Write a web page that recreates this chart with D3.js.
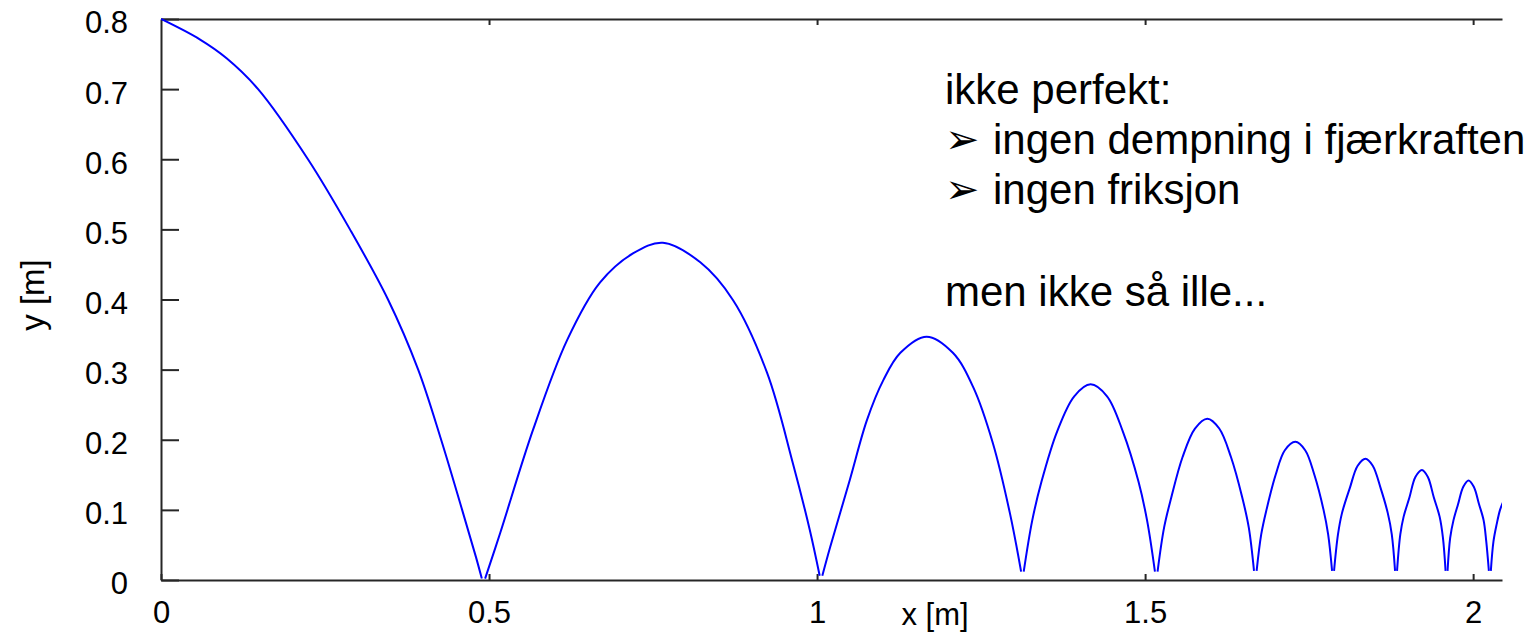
<!DOCTYPE html>
<html>
<head>
<meta charset="utf-8">
<script src="https://cdn.jsdelivr.net/npm/d3@7"></script>
<style>
  html, body { margin: 0; padding: 0; background: #ffffff; }
  svg { display: block; }
  text { font-family: "Liberation Sans", Arial, Helvetica, sans-serif; fill: #000; }
</style>
</head>
<body>
<svg id="chart" width="1538" height="635"></svg>
<script>
// Axis ticks
const xTicks = [0, 0.5, 1, 1.5, 2];
const xTickLabels = ["0", "0.5", "1", "1.5", "2"];
const yTicks = [0, 0.1, 0.2, 0.3, 0.4, 0.5, 0.6, 0.7, 0.8];
const yTickLabels = ["0", "0.1", "0.2", "0.3", "0.4", "0.5", "0.6", "0.7", "0.8"];
const xLabel = "x [m]";
const yLabel = "y [m]";

// Ball trajectory, one array per flight between two ground contacts: [x, y] in metres
const arc0 = [[0, 0.800], [0.059, 0.771], [0.100, 0.744], [0.148, 0.700], [0.224, 0.600], [0.288, 0.500],
              [0.346, 0.400], [0.392, 0.300], [0.427, 0.200], [0.459, 0.100], [0.480, 0.033], [0.489, 0.002]];
const arc1 = [[0.494, 0.002], [0.517, 0.067], [0.567, 0.214], [0.619, 0.342], [0.669, 0.424], [0.720, 0.466],
              [0.765, 0.481], [0.822, 0.453], [0.872, 0.399], [0.924, 0.295], [0.963, 0.167], [0.989, 0.071], [1.004, 0.006]];
const arc2 = [[1.008, 0.006], [1.020, 0.047], [1.050, 0.143], [1.076, 0.228], [1.101, 0.285], [1.127, 0.324],
              [1.167, 0.347], [1.207, 0.324], [1.238, 0.275], [1.268, 0.195], [1.294, 0.095], [1.311, 0.012]];
const arc3 = [[1.315, 0.012], [1.328, 0.085], [1.342, 0.140], [1.366, 0.212], [1.392, 0.262], [1.417, 0.279],
              [1.442, 0.262], [1.466, 0.212], [1.490, 0.140], [1.503, 0.085], [1.515, 0.012]];
const arc4 = [[1.519, 0.012], [1.529, 0.075], [1.540, 0.118], [1.557, 0.175], [1.576, 0.216], [1.595, 0.230],
              [1.613, 0.216], [1.631, 0.175], [1.648, 0.118], [1.658, 0.075], [1.666, 0.013]];
const arc5 = [[1.670, 0.013], [1.677, 0.065], [1.685, 0.100], [1.699, 0.150], [1.713, 0.185], [1.729, 0.197],
              [1.744, 0.185], [1.758, 0.150], [1.772, 0.100], [1.779, 0.065], [1.785, 0.013]];
const arc6 = [[1.788, 0.013], [1.794, 0.065], [1.800, 0.095], [1.812, 0.131], [1.824, 0.163], [1.836, 0.173],
              [1.847, 0.163], [1.859, 0.131], [1.870, 0.095], [1.876, 0.065], [1.881, 0.013]];
const arc7 = [[1.884, 0.013], [1.889, 0.065], [1.894, 0.090], [1.903, 0.118], [1.912, 0.147], [1.922, 0.157],
              [1.931, 0.147], [1.940, 0.118], [1.949, 0.090], [1.954, 0.060], [1.958, 0.013]];
const arc8 = [[1.961, 0.013], [1.965, 0.060], [1.970, 0.085], [1.977, 0.108], [1.985, 0.133], [1.993, 0.142],
              [2.001, 0.133], [2.009, 0.108], [2.016, 0.085], [2.020, 0.055], [2.024, 0.013]];
const arc9 = [[2.027, 0.013], [2.031, 0.055], [2.036, 0.080], [2.041, 0.100], [2.046, 0.112]];
const arcs = [arc0, arc1, arc2, arc3, arc4, arc5, arc6, arc7, arc8, arc9];

// Note text
const noteHead = "ikke perfekt:";
const noteBullets = ["ingen dempning i fjærkraften", "ingen friksjon"];
const noteTail = "men ikke så ille...";

const svg = d3.select("#chart");
const margin = { left: 161, right: 1502, top: 19, bottom: 580 };

const x = d3.scaleLinear().domain([0, 2.044]).range([margin.left, margin.right]);
const y = d3.scaleLinear().domain([0, 0.8]).range([margin.bottom, margin.top]);

svg.append("rect").attr("width", 1538).attr("height", 635).attr("fill", "#fff");

svg.append("defs").append("clipPath").attr("id", "plotArea")
  .append("rect")
  .attr("x", margin.left).attr("y", margin.top - 2)
  .attr("width", margin.right - margin.left).attr("height", margin.bottom - margin.top + 4);

const axisColor = "#262626";
const tickFont = 31;

function styleAxis(g) {
  g.select(".domain").attr("stroke", axisColor).attr("stroke-width", 2);
  g.selectAll(".tick line").attr("stroke", axisColor).attr("stroke-width", 2);
  g.selectAll(".tick text")
    .attr("font-family", "'Liberation Sans', Arial, Helvetica, sans-serif")
    .attr("font-size", tickFont).attr("fill", "#111");
}

// Bottom axis
svg.append("g")
  .attr("transform", `translate(0,${margin.bottom})`)
  .call(d3.axisBottom(x).tickValues(xTicks)
    .tickFormat((d, i) => xTickLabels[i])
    .tickSizeInner(-6).tickSizeOuter(0).tickPadding(21))
  .call(styleAxis)
  .call(g => g.selectAll(".tick text").attr("dy", "0.71em"));

// Top axis (ticks only)
svg.append("g")
  .attr("transform", `translate(0,${margin.top})`)
  .call(d3.axisTop(x).tickValues(xTicks.slice(1)).tickFormat("")
    .tickSizeInner(-6).tickSizeOuter(0))
  .call(styleAxis);

// Left axis
svg.append("g")
  .attr("transform", `translate(${margin.left},0)`)
  .call(d3.axisLeft(y).tickValues(yTicks)
    .tickFormat((d, i) => yTickLabels[i])
    .tickSizeInner(-18).tickSizeOuter(0).tickPadding(33))
  .call(styleAxis)
  .call(g => g.selectAll(".tick text").attr("dy", "0.45em"));

// Axis titles
svg.append("text")
  .attr("x", 935).attr("y", 625)
  .attr("text-anchor", "middle")
  .attr("font-size", 31)
  .text(xLabel);

svg.append("text")
  .attr("transform", "translate(44,295) rotate(-90)")
  .attr("text-anchor", "middle")
  .attr("font-size", 33)
  .text(yLabel);

// Trajectory
const line = d3.line()
  .x(d => x(d[0]))
  .y(d => y(d[1]))
  .curve(d3.curveCatmullRom.alpha(0.5));

svg.append("g")
  .attr("clip-path", "url(#plotArea)")
  .selectAll("path")
  .data(arcs)
  .join("path")
  .attr("d", line)
  .attr("fill", "none")
  .attr("stroke", "#0000ff")
  .attr("stroke-width", 2)
  .attr("stroke-linejoin", "round");

// Note
const note = svg.append("g").attr("font-size", 42);
note.append("text").attr("x", 945).attr("y", 104).text(noteHead);
noteBullets.forEach((t, i) => {
  const by = 154 + i * 50;
  note.append("text")
    .attr("x", 945).attr("y", by - 1)
    .attr("font-family", "'DejaVu Sans', sans-serif")
    .attr("font-size", 41)
    .text("\u27A2");
  note.append("text").attr("x", 993).attr("y", by).text(t);
});
note.append("text").attr("x", 945).attr("y", 306).text(noteTail);
</script>
</body>
</html>
